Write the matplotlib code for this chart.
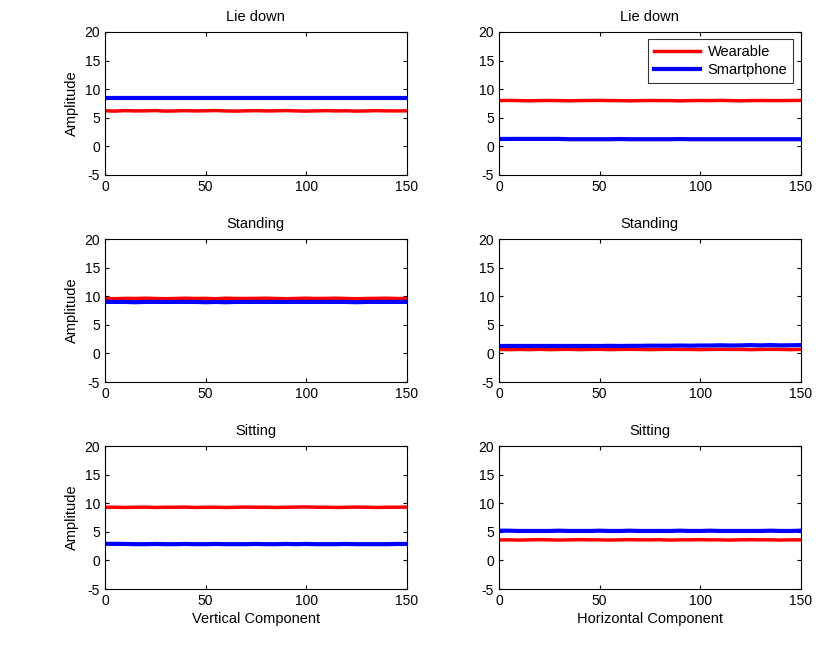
import numpy as np
import matplotlib
matplotlib.use('Agg')
import matplotlib.pyplot as plt

plt.rcParams['font.family'] = ['Liberation Sans', 'DejaVu Sans']
plt.rcParams['font.size'] = 10
plt.rcParams['axes.unicode_minus'] = False

# sample index (every 5 samples)
x = np.arange(0, 151, 5)

# Vertical component
lie_v_wear = [6.22, 6.17, 6.25, 6.2, 6.21, 6.26, 6.17, 6.2, 6.25, 6.2, 6.22, 6.26, 6.2, 6.17, 6.21, 6.25,
              6.2, 6.22, 6.26, 6.2, 6.17, 6.21, 6.25, 6.2, 6.22, 6.17, 6.2, 6.25, 6.21, 6.2, 6.22]
lie_v_phone = [8.5, 8.5, 8.5, 8.5, 8.5, 8.5, 8.5, 8.5, 8.5, 8.5, 8.5, 8.5, 8.5, 8.5, 8.5, 8.5,
               8.5, 8.5, 8.5, 8.5, 8.5, 8.5, 8.5, 8.5, 8.5, 8.5, 8.5, 8.5, 8.5, 8.5, 8.5]
stand_v_wear = [9.6, 9.56, 9.62, 9.6, 9.65, 9.6, 9.56, 9.6, 9.65, 9.6, 9.62, 9.56, 9.65, 9.6, 9.6, 9.62,
                9.65, 9.6, 9.56, 9.6, 9.65, 9.6, 9.62, 9.65, 9.6, 9.56, 9.6, 9.62, 9.65, 9.6, 9.6]
stand_v_phone = [9.0, 9.0, 9.0, 8.95, 9.0, 9.0, 9.0, 9.0, 9.0, 9.0, 8.95, 9.0, 8.95, 9.0, 9.0, 9.0,
                 9.0, 9.0, 9.0, 9.0, 9.0, 9.0, 9.0, 9.0, 9.0, 8.95, 9.0, 9.0, 9.0, 9.0, 9.0]
sit_v_wear = [9.3, 9.3, 9.26, 9.3, 9.32, 9.26, 9.3, 9.3, 9.32, 9.26, 9.3, 9.3, 9.26, 9.3, 9.32, 9.3,
              9.3, 9.26, 9.3, 9.32, 9.35, 9.3, 9.3, 9.26, 9.3, 9.32, 9.3, 9.26, 9.3, 9.3, 9.32]
sit_v_phone = [2.9, 2.9, 2.88, 2.84, 2.84, 2.88, 2.84, 2.84, 2.88, 2.84, 2.84, 2.88, 2.84, 2.84, 2.84, 2.88,
               2.84, 2.84, 2.88, 2.84, 2.88, 2.84, 2.84, 2.84, 2.88, 2.84, 2.84, 2.84, 2.84, 2.88, 2.88]

# Horizontal component
lie_h_wear = [8.0, 8.04, 8.0, 7.96, 8.0, 8.02, 8.0, 7.96, 8.0, 8.02, 8.04, 8.0, 8.0, 7.96, 8.0, 8.02,
              8.0, 8.0, 7.96, 8.0, 8.02, 8.0, 8.04, 8.0, 7.96, 8.0, 8.02, 8.0, 8.0, 8.02, 8.04]
lie_h_phone = [1.3, 1.3, 1.3, 1.3, 1.3, 1.3, 1.3, 1.25, 1.25, 1.25, 1.25, 1.25, 1.28, 1.25, 1.25, 1.25,
               1.25, 1.25, 1.28, 1.25, 1.25, 1.25, 1.25, 1.25, 1.25, 1.25, 1.25, 1.25, 1.25, 1.25, 1.25]
stand_h_wear = [0.7, 0.66, 0.7, 0.66, 0.72, 0.66, 0.7, 0.72, 0.66, 0.7, 0.72, 0.66, 0.7, 0.72, 0.7, 0.66,
                0.7, 0.72, 0.7, 0.7, 0.66, 0.7, 0.72, 0.7, 0.7, 0.66, 0.7, 0.72, 0.7, 0.66, 0.7]
stand_h_phone = [1.3, 1.3, 1.3, 1.3, 1.3, 1.3, 1.3, 1.3, 1.3, 1.3, 1.3, 1.32, 1.3, 1.32, 1.32, 1.35,
                 1.35, 1.35, 1.38, 1.35, 1.38, 1.38, 1.42, 1.38, 1.4, 1.45, 1.4, 1.45, 1.4, 1.42, 1.45]
sit_h_wear = [3.6, 3.6, 3.56, 3.6, 3.62, 3.6, 3.56, 3.6, 3.62, 3.6, 3.6, 3.56, 3.6, 3.62, 3.6, 3.6,
              3.62, 3.56, 3.6, 3.6, 3.62, 3.6, 3.6, 3.56, 3.6, 3.62, 3.6, 3.6, 3.56, 3.6, 3.6]
sit_h_phone = [5.2, 5.2, 5.15, 5.15, 5.15, 5.15, 5.2, 5.15, 5.15, 5.15, 5.2, 5.15, 5.15, 5.2, 5.15, 5.15,
               5.15, 5.15, 5.2, 5.15, 5.15, 5.2, 5.15, 5.15, 5.15, 5.15, 5.15, 5.2, 5.15, 5.15, 5.2]

titles = ['Lie down', 'Standing', 'Sitting']
wear = [[lie_v_wear, lie_h_wear], [stand_v_wear, stand_h_wear], [sit_v_wear, sit_h_wear]]
phone = [[lie_v_phone, lie_h_phone], [stand_v_phone, stand_h_phone], [sit_v_phone, sit_h_phone]]
xlabels = ['Vertical Component', 'Horizontal Component']

fig = plt.figure(figsize=(8.32, 6.5), dpi=100)
lefts = [0.1262, 0.5998]
bottoms = [0.7308, 0.4123, 0.0938]
w, h = 0.3625, 0.22

for r in range(3):
    for c in range(2):
        ax = fig.add_axes([lefts[c], bottoms[r], w, h])
        ax.plot(x, wear[r][c], color='red', lw=2.5, label='Wearable')
        ax.plot(x, phone[r][c], color='blue', lw=3, label='Smartphone')
        ax.set_xlim(0, 150)
        ax.set_ylim(-5, 20)
        ax.set_xticks([0, 50, 100, 150])
        ax.set_yticks([-5, 0, 5, 10, 15, 20])
        ax.tick_params(direction='in', top=True, right=True, length=3, labelsize=10)
        ax.set_title(titles[r], fontsize=10.5, pad=8)
        if c == 0:
            ax.set_ylabel('Amplitude', fontsize=10.5)
        if r == 2:
            ax.set_xlabel(xlabels[c], fontsize=10.5, labelpad=3)
        if r == 0 and c == 1:
            leg = ax.legend(loc='upper right', fancybox=False, edgecolor='black',
                            fontsize=10.5, handlelength=3.2, borderpad=0.4,
                            labelspacing=0.3, handletextpad=0.5)
            leg.get_frame().set_linewidth(0.8)

plt.savefig('out.png', dpi=100)
